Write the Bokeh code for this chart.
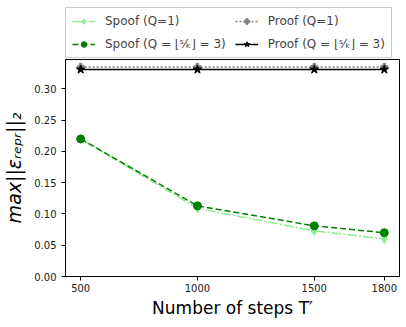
from bokeh.plotting import figure
from bokeh.models import Legend, LegendItem, FixedTicker, Range1d, PrintfTickFormatter
from bokeh.layouts import column
from bokeh.embed import file_html
from bokeh.resources import INLINE

steps = [500, 1000, 1500, 1800]
spoof_q1 = [0.220, 0.109, 0.073, 0.060]
spoof_q3 = [0.220, 0.113, 0.081, 0.070]
proof_q1 = [0.335, 0.335, 0.335, 0.335]
proof_q3 = [0.331, 0.331, 0.331, 0.331]
x_ticks = [500, 1000, 1500, 1800]
y_ticks = [0.0, 0.05, 0.10, 0.15, 0.20, 0.25, 0.30]
y_tick_labels = ["0.00", "0.05", "0.10", "0.15", "0.20", "0.25", "0.30"]
labels = ["Spoof (Q=1)", "Spoof (Q = \u230a\u02e2\u2044\u2096\u230b = 3)",
          "Proof (Q=1)", "Proof (Q = \u230a\u02e2\u2044\u2096\u230b = 3)"]

FONT = "DejaVu Sans"
lightg = "#90ee90"
darkg = "#008000"

styles = [
    dict(color=lightg, dash="10 2 2 2", marker="diamond", size=9),
    dict(color=darkg, dash="6 3", marker="circle", size=8),
    dict(color="grey", dash="2 2", marker="plus", size=7),
    dict(color="black", dash="solid", marker="star", size=9),
]
series = [spoof_q1, spoof_q3, proof_q1, proof_q3]

# ---- main plot ----
p = figure(frame_width=334, frame_height=217, output_backend="svg", toolbar_location=None,
           x_range=Range1d(435, 1865), y_range=Range1d(0, 0.347),
           min_border_left=58, min_border_top=0, min_border_right=6, min_border_bottom=40)
p.background_fill_color = "white"
p.border_fill_color = "white"
p.outline_line_color = "black"
p.outline_line_width = 1
p.xgrid.visible = False
p.ygrid.visible = False

for ax in (p.xaxis[0], p.yaxis[0]):
    ax.major_label_text_font = FONT
    ax.major_label_text_font_size = "10px"
    ax.major_label_text_color = "#222222"
    ax.axis_label_text_font = FONT
    ax.axis_label_text_font_style = "normal"
    ax.axis_label_text_color = "black"
    ax.major_tick_out = 4
    ax.major_tick_in = 0
    ax.minor_tick_out = 0
    ax.minor_tick_in = 0
    ax.axis_line_color = "black"
    ax.major_tick_line_color = "black"

p.xaxis.ticker = FixedTicker(ticks=x_ticks)
p.yaxis.ticker = FixedTicker(ticks=y_ticks)
p.yaxis.formatter = PrintfTickFormatter(format="%.2f")
p.yaxis.major_label_overrides = {t: s for t, s in zip(y_ticks, y_tick_labels)}
p.xaxis.axis_label = "Number of steps T\u2032"
p.xaxis.axis_label_text_font_size = "17px"
p.xaxis.axis_label_standoff = 3
p.xaxis.major_label_standoff = 3
p.yaxis.axis_label = "max||\u03b5\u1d63\u2091\u209a\u1d63||\u2082"
p.yaxis.axis_label_text_font_size = "19px"
p.yaxis.axis_label_text_font_style = "italic"
p.yaxis.axis_label_standoff = 6

for ys, st in zip(series, styles):
    p.line(steps, ys, line_color=st["color"], line_width=1.5, line_dash=st["dash"])
    p.scatter(steps, ys, marker=st["marker"], size=st["size"],
              fill_color=st["color"], line_color=st["color"])

# ---- legend strip above the plot (same series, ranges keep them out of view) ----
lg = figure(width=398, height=59, output_backend="svg", toolbar_location=None,
            min_border_left=57, min_border_right=6, min_border_top=7, min_border_bottom=0,
            x_range=Range1d(0, 1), y_range=Range1d(0, 1))
lg.axis.visible = False
lg.grid.visible = False
lg.outline_line_color = None
lg.background_fill_color = "white"
lg.border_fill_color = "white"

items = []
for lab, ys, st in zip(labels, series, styles):
    rl = lg.line(steps, ys, line_color=st["color"], line_width=1.5, line_dash=st["dash"])
    rm = lg.scatter(steps, ys, marker=st["marker"], size=st["size"],
                    fill_color=st["color"], line_color=st["color"])
    items.append(LegendItem(label=lab, renderers=[rl, rm]))

legend = Legend(items=items, location="top_left", orientation="vertical", nrows=2)
legend.label_text_font = FONT
legend.label_text_font_size = "12px"
legend.border_line_color = "#cccccc"
legend.border_line_alpha = 1
legend.background_fill_alpha = 1
legend.glyph_width = 23
legend.glyph_height = 14
legend.label_height = 14
legend.spacing = 9
legend.padding = 6
legend.margin = 0
legend.label_standoff = 10
lg.add_layout(legend, "center")

layout = column(lg, p, spacing=0)
open("out.html", "w").write(file_html(layout, INLINE))
